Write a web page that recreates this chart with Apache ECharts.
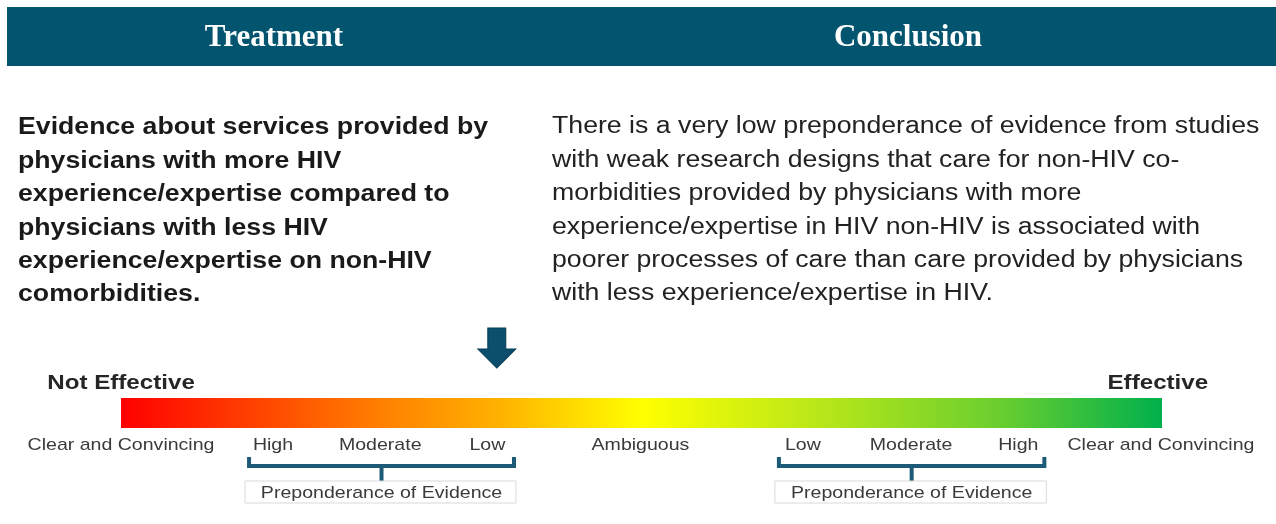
<!DOCTYPE html>
<html>
<head>
<meta charset="utf-8">
<script src="https://cdn.jsdelivr.net/npm/echarts@6/dist/echarts.min.js"></script>
<style>
  html, body { margin: 0; padding: 0; background: #fff; }
  #chart { width: 1276px; height: 524px; }
</style>
</head>
<body>
<div id="chart"></div>
<script>
// header titles
const headers = ['Treatment', 'Conclusion']
// paragraph lines, left (bold) and right
const treatmentLines = [
  'Evidence about services provided by',
  'physicians with more HIV',
  'experience/expertise compared to',
  'physicians with less HIV',
  'experience/expertise on non-HIV',
  'comorbidities.'
]
const conclusionLines = [
  'There is a very low preponderance of evidence from studies',
  'with weak research designs that care for non-HIV co-',
  'morbidities provided by physicians with more',
  'experience/expertise in HIV non-HIV is associated with',
  'poorer processes of care than care provided by physicians',
  'with less experience/expertise in HIV.'
]
// scale: 0 = not effective, 100 = effective
const scaleLabels = ['Clear and Convincing', 'High', 'Moderate', 'Low', 'Ambiguous', 'Low', 'Moderate', 'High', 'Clear and Convincing']
const scalePos = [0, 14.6, 24.9, 35.2, 49.9, 65.5, 75.9, 86.2, 99.9]
const endLabels = ['Not Effective', 'Effective']
const endPos = [0, 99.6]
// bracket groups (from, to) with their caption
const bracketFrom = [12.3, 63.2]
const bracketTo = [37.75, 88.7]
const bracketCaption = ['Preponderance of Evidence', 'Preponderance of Evidence']
// where the conclusion sits on the scale
const arrowPos = [36.1]

const chart = echarts.init(document.getElementById('chart'))

// rows of the lower panel, in px below the grid top
const ROW = { arrow: 28, ends: 63, barTop: 78, barBottom: 108, labels: 125, bracketTip: 137, bracketLine: 146, box: 161, boxBottom: 183 }

const textFont = 'Liberation Sans, Arial, sans-serif'
const STRETCH = 1.15 // the source image is a little wider than tall

const graphics = [
  { type: 'rect', left: 7, top: 7, shape: { width: 1269, height: 59 }, style: { fill: '#02546f' } }
]
const headerCenters = [274, 908]
headers.forEach((h, i) => {
  graphics.push({
    type: 'text', x: headerCenters[i], y: 38,
    style: { text: h, fill: '#fff', font: 'bold 31px "Liberation Serif", "Times New Roman", serif', align: 'center', verticalAlign: 'middle' }
  })
})
treatmentLines.forEach((t, i) => {
  graphics.push({
    type: 'text', x: 18, y: 128 + i * 33.4,
    style: { text: t, fill: '#1a1a1a', font: 'bold 23px ' + textFont, verticalAlign: 'middle' },
    scaleX: 1.16, originX: 0
  })
})
conclusionLines.forEach((t, i) => {
  graphics.push({
    type: 'text', x: 552, y: 127 + i * 33.4,
    style: { text: t, fill: '#222', font: '23px ' + textFont, verticalAlign: 'middle' },
    scaleX: 1.16, originX: 0
  })
})

// text placed on the scale, stretched like the source
function scaleText (names, positions, row, font, color) {
  return {
    type: 'custom',
    clip: false,
    data: positions.map((x, i) => [x, row, i]),
    renderItem (params, api) {
      const p = api.coord([api.value(0), api.value(1)])
      return {
        type: 'text', x: p[0], y: p[1], scaleX: STRETCH, originX: 0,
        style: { text: names[api.value(2)], fill: color, font: font, align: 'center', verticalAlign: 'middle' }
      }
    }
  }
}

const option = {
  animation: false,
  graphic: graphics,
  grid: { left: 121, right: 114, top: 320, bottom: 0 },
  xAxis: { type: 'value', min: 0, max: 100, show: false },
  yAxis: { type: 'value', min: 0, max: 204, inverse: true, show: false },
  series: [
    {
      // gradient bar
      type: 'custom',
      clip: false,
      data: [[0, 100]],
      renderItem (params, api) {
        const p0 = api.coord([api.value(0), ROW.barTop])
        const p1 = api.coord([api.value(1), ROW.barBottom])
        return {
          type: 'rect',
          shape: { x: p0[0], y: p0[1], width: p1[0] - p0[0], height: p1[1] - p0[1] },
          style: {
            fill: new echarts.graphic.LinearGradient(0, 0, 1, 0, [
              { offset: 0, color: '#ff0000' },
              { offset: 0.25, color: '#ff8000' },
              { offset: 0.36, color: '#ffb000' },
              { offset: 0.5, color: '#ffff00' },
              { offset: 0.68, color: '#b4e61a' },
              { offset: 0.84, color: '#6ccf2e' },
              { offset: 1, color: '#00b04c' }
            ])
          }
        }
      }
    },
    scaleText(scaleLabels, scalePos, ROW.labels, '17px ' + textFont, '#3a3a3a'),
    scaleText(endLabels, endPos, ROW.ends, 'bold 21px ' + textFont, '#262626'),
    {
      // arrow marker
      type: 'scatter',
      clip: false,
      symbol: 'path://M10,0 L28,0 L28,21 L38,21 L19,40 L0,21 L10,21 Z',
      symbolSize: [38, 40],
      data: arrowPos.map(x => [x, ROW.arrow]),
      itemStyle: { color: '#0b4f6c', borderColor: '#083d54', borderWidth: 1, opacity: 1 }
    },
    {
      // brackets with captions
      type: 'custom',
      clip: false,
      data: bracketFrom.map((f, i) => [f, bracketTo[i]]),
      renderItem (params, api) {
        const a = api.coord([api.value(0), ROW.bracketLine])
        const b = api.coord([api.value(1), ROW.bracketLine])
        const tipY = api.coord([0, ROW.bracketTip])[1]
        const boxY = api.coord([0, ROW.box])[1]
        const boxB = api.coord([0, ROW.boxBottom])[1]
        const mid = (a[0] + b[0]) / 2
        const color = '#1d5a78'
        const caption = bracketCaption[params.dataIndex]
        return {
          type: 'group',
          children: [
            { type: 'polyline', shape: { points: [[a[0], tipY], [a[0], a[1]], [b[0], b[1]], [b[0], tipY]] }, style: { stroke: color, lineWidth: 4, fill: null } },
            { type: 'line', shape: { x1: mid, y1: a[1], x2: mid, y2: boxY }, style: { stroke: color, lineWidth: 4 } },
            { type: 'rect', shape: { x: a[0] - 4, y: boxY, width: b[0] - a[0] + 6, height: boxB - boxY }, style: { fill: '#fff', stroke: '#d9d9d9', lineWidth: 1 } },
            { type: 'text', x: mid, y: (boxY + boxB) / 2 + 1, scaleX: STRETCH, originX: 0, style: { text: caption, fill: '#3a3a3a', font: '17px ' + textFont, align: 'center', verticalAlign: 'middle' } }
          ]
        }
      }
    }
  ]
}

chart.setOption(option)
window.addEventListener('resize', () => chart.resize())
</script>
</body>
</html>
